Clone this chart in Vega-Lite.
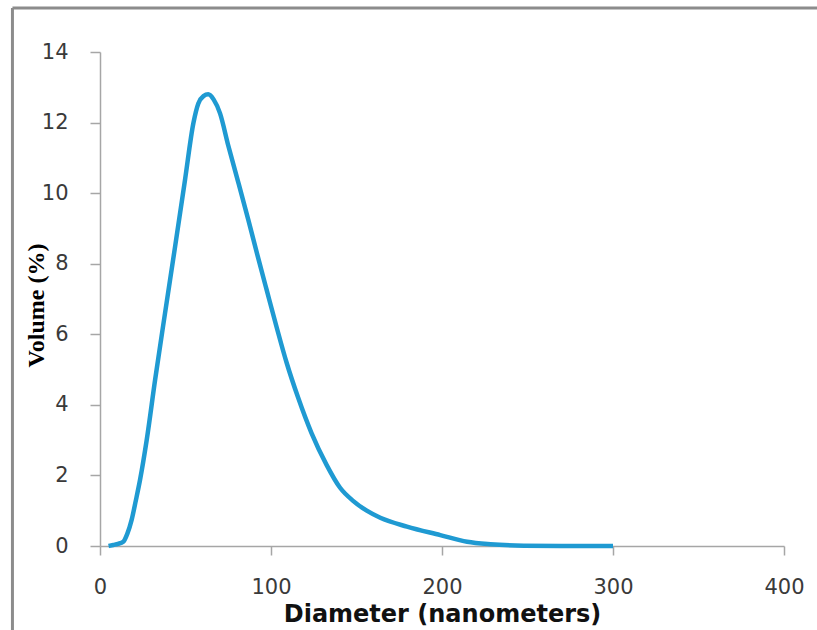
{
  "$schema": "https://vega.github.io/schema/vega-lite/v6.json",
  "width": 684,
  "height": 494,
  "autosize": {"type": "none"},
  "padding": {"left": 100, "top": 52, "right": 33, "bottom": 84},
  "background": "white",
  "config": {"view": {"stroke": null}},
  "datasets": {
    "curve": [
      {"d": 5, "v": 0}, {"d": 7.8, "v": 0.03}, {"d": 10.5, "v": 0.06}, {"d": 13.6, "v": 0.12},
      {"d": 16, "v": 0.35}, {"d": 18.5, "v": 0.74}, {"d": 21, "v": 1.3}, {"d": 23.4, "v": 1.87},
      {"d": 27.3, "v": 3.0}, {"d": 32.2, "v": 4.7}, {"d": 38.0, "v": 6.59}, {"d": 43.9, "v": 8.48},
      {"d": 49.7, "v": 10.37}, {"d": 54.6, "v": 11.98}, {"d": 57.5, "v": 12.54}, {"d": 60.5, "v": 12.75},
      {"d": 63.3, "v": 12.8}, {"d": 66.5, "v": 12.65}, {"d": 70.2, "v": 12.26}, {"d": 75.0, "v": 11.35},
      {"d": 80.9, "v": 10.3}, {"d": 86.7, "v": 9.25}, {"d": 92.3, "v": 8.2}, {"d": 97.5, "v": 7.25},
      {"d": 103.3, "v": 6.2}, {"d": 109.1, "v": 5.2}, {"d": 115.9, "v": 4.2}, {"d": 123.7, "v": 3.2},
      {"d": 132.5, "v": 2.3}, {"d": 140.4, "v": 1.65}, {"d": 148, "v": 1.28}, {"d": 156, "v": 1.0},
      {"d": 163.9, "v": 0.8}, {"d": 179.5, "v": 0.55}, {"d": 199, "v": 0.31}, {"d": 214.7, "v": 0.12},
      {"d": 228.3, "v": 0.05}, {"d": 247.8, "v": 0.01}, {"d": 270, "v": 0}, {"d": 300, "v": 0}
    ],
    "frame": [
      {"d": -51.2, "v": -3, "d2": -51.2, "v2": 15.25},
      {"d": -51.2, "v": 15.25, "d2": 440, "v2": 15.25}
    ]
  },
  "layer": [
    {
      "data": {"name": "curve"},
      "mark": {"type": "line", "color": "#1f9ad2", "strokeWidth": 4.5, "interpolate": "monotone"},
      "encoding": {
        "x": {
          "field": "d", "type": "quantitative",
          "scale": {"domain": [0, 400], "nice": false, "zero": false},
          "axis": {
            "title": "Diameter (nanometers)",
            "values": [0, 100, 200, 300, 400],
            "grid": false,
            "labelFlush": false,
            "domainColor": "#a6a6a6", "domainWidth": 1.5,
            "tickColor": "#a6a6a6", "tickWidth": 1.5, "tickSize": 9,
            "labelFont": "DejaVu Sans", "labelFontSize": 21, "labelColor": "#3a3a3a",
            "labelPadding": 21,
            "titleFont": "DejaVu Sans", "titleFontSize": 24, "titleFontWeight": "bold", "titleColor": "#111111",
            "titleX": 342, "titleY": 68, "titleBaseline": "middle", "titleAlign": "center"
          }
        },
        "y": {
          "field": "v", "type": "quantitative",
          "scale": {"domain": [0, 14], "nice": false, "zero": false},
          "axis": {
            "title": "Volume (%)",
            "values": [0, 2, 4, 6, 8, 10, 12, 14],
            "grid": false,
            "labelFlush": false,
            "domainColor": "#a6a6a6", "domainWidth": 1.5,
            "tickColor": "#a6a6a6", "tickWidth": 1.5, "tickSize": 10,
            "labelFont": "DejaVu Sans", "labelFontSize": 21, "labelColor": "#3a3a3a",
            "labelPadding": 22,
            "titleFont": "Liberation Serif", "titleFontSize": 24, "titleFontWeight": "bold", "titleColor": "#000000",
            "titleAngle": -90, "titleX": -64, "titleY": 253, "titleBaseline": "middle", "titleAlign": "center"
          }
        }
      }
    },
    {
      "data": {"name": "frame"},
      "mark": {"type": "rule", "color": "#8c8c8c", "strokeWidth": 3},
      "encoding": {
        "x": {"field": "d", "type": "quantitative", "title": "Diameter (nanometers)"},
        "x2": {"field": "d2"},
        "y": {"field": "v", "type": "quantitative", "title": "Volume (%)"},
        "y2": {"field": "v2"}
      }
    }
  ]
}
